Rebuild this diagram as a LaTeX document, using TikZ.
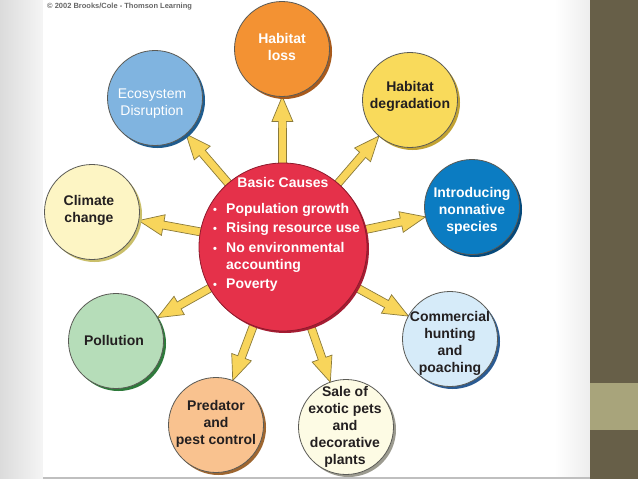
\documentclass[tikz,border=0pt]{standalone}
\usepackage{fontspec}
\setmainfont{Liberation Sans}
\usetikzlibrary{calc,shadows}
\pgfdeclarelayer{bgl}
\pgfdeclarelayer{arl}
\pgfsetlayers{bgl,arl,main}
\definecolor{redfill}{HTML}{E5314A}
\definecolor{redline}{HTML}{8E1A2C}
\definecolor{redshad}{HTML}{A51D33}
\definecolor{lossfill}{HTML}{F39233}
\definecolor{lossshad}{HTML}{A85A1C}
\definecolor{degrfill}{HTML}{F9DA5B}
\definecolor{degrshad}{HTML}{C2A232}
\definecolor{ecofill}{HTML}{80B4E0}
\definecolor{ecoshad}{HTML}{1F5C8E}
\definecolor{climfill}{HTML}{FDF5C4}
\definecolor{climshad}{HTML}{CABF6A}
\definecolor{pollfill}{HTML}{B6DDB9}
\definecolor{pollshad}{HTML}{2E7A3B}
\definecolor{predfill}{HTML}{F9C28F}
\definecolor{predshad}{HTML}{9E6630}
\definecolor{salefill}{HTML}{FDFBE4}
\definecolor{saleshad}{HTML}{9C9B90}
\definecolor{introfill}{HTML}{0B7CC2}
\definecolor{introshad}{HTML}{06497A}
\definecolor{commfill}{HTML}{D6EBF9}
\definecolor{commshad}{HTML}{2B5B92}
\definecolor{circline}{HTML}{5A5A55}
\definecolor{arrfill}{HTML}{F8D55B}
\definecolor{arrline}{HTML}{8A7A3A}
\definecolor{darktext}{HTML}{231F20}
\definecolor{stripdark}{HTML}{675F48}
\definecolor{stripband}{HTML}{A8A47B}
\tikzset{
  bub/.style 2 args={circle, draw=circline, line width=0.8pt, inner sep=0pt,
    minimum size=95pt, fill=#1,
    drop shadow={fill=#2, opacity=1, shadow xshift=2.5pt, shadow yshift=-2.5pt}},
  lbl/.style={align=center, inner sep=0pt, text=darktext,
    font=\bfseries\fontsize{14}{17}\selectfont},
  lblw/.style={lbl, text=white},
  item/.style={anchor=base west, inner sep=0pt, text=white,
    font=\bfseries\fontsize{14}{17}\selectfont},
  fatarrow/.style={fill=arrfill, draw=arrline, line width=0.7pt, line join=miter}
}
\newcommand\blt{\makebox[15pt][l]{\hspace{2pt}\fontsize{11}{11}\selectfont\textbullet}}
\begin{document}
\begin{tikzpicture}[x=1pt,y=-1pt]
\useasboundingbox (0,0) rectangle (638,479);
\begin{pgfonlayer}{bgl}
  \shade[left color=black!14, right color=black!4] (0,0) rectangle (43,479);
  \fill[white] (43,0) rectangle (590,477);
  \shade[left color=white, right color=black!7] (555,0) rectangle (590,477);
  \fill[black!25] (43,477) rectangle (590,479);
  \fill[stripdark] (590,0) rectangle (638,479);
  \fill[stripband] (590,383) rectangle (638,430);
\end{pgfonlayer}
\node[anchor=west, inner sep=0pt, text=black!60, font=\bfseries\fontsize{7.5}{8}\selectfont] (copy) at (47,7) {\textcopyright\ 2002 Brooks/Cole - Thomson Learning};
% circles
\node[circle, draw=redline, line width=0.8pt, inner sep=0pt, minimum size=168pt, fill=redfill,
  drop shadow={fill=redshad, opacity=1, shadow xshift=2pt, shadow yshift=-2pt}] (bc) at (283,247) {};
\node[bub={lossfill}{lossshad}] (loss) at (282,49) {};
\node[bub={degrfill}{degrshad}] (degr) at (410,100) {};
\node[bub={ecofill}{ecoshad}] (eco) at (155,98) {};
\node[bub={climfill}{climshad}] (clim) at (92,212) {};
\node[bub={pollfill}{pollshad}] (poll) at (116,341) {};
\node[bub={predfill}{predshad}] (pred) at (216,425) {};
\node[bub={salefill}{saleshad}] (sale) at (346,427) {};
\node[bub={introfill}{introshad}] (intro) at (472,207) {};
\node[bub={commfill}{commshad}] (comm) at (450,339) {};
% labels
\node[lblw] (tloss) at (282,47) {Habitat\\loss};
\node[lbl] (tdegr) at (410,96.5) {Habitat\\degradation};
\node[lblw, font=\fontsize{14}{17}\selectfont] (teco) at (152,104) {Ecosystem\\Disruption};
\node[lbl] (tclim) at (89,210.5) {Climate\\change};
\node[lbl] (tpoll) at (114,340.5) {Pollution};
\node[lbl] (tpred) at (216,424) {Predator\\and\\pest control};
\node[lbl] (tsale) at (345,426.5) {Sale of\\exotic pets\\and\\decorative\\plants};
\node[lblw] (tintro) at (472,210.5) {Introducing\\nonnative\\species};
\node[lbl] (tcomm) at (450,343) {Commercial\\hunting\\and\\poaching};
% center text
\node[lblw] (tbc) at (283,182.5) {Basic Causes};
\node[item] (i1) at (211,213.5) {\blt Population growth};
\node[item] (i2) at (211,232.5) {\blt Rising resource use};
\node[item] (i3) at (211,252.5) {\blt No environmental};
\node[item] (i4) at (226,269.5) {accounting};
\node[item] (i5) at (211,288.5) {\blt Poverty};
% arrows
\begin{pgfonlayer}{arl}
\foreach \t in {loss,degr,eco,clim,poll,pred,sale,intro,comm}{
  \path ($(\t)!47.5pt!(bc)$) coordinate (tp);
  \path ($(tp)!25pt!(bc)$) coordinate (hb);
  \draw[fatarrow] ($(bc)!4pt!90:(tp)$) -- ($(hb)!4pt!90:(tp)$) -- ($(hb)!10.5pt!90:(tp)$)
    -- (tp) -- ($(hb)!10.5pt!-90:(tp)$) -- ($(hb)!4pt!-90:(tp)$) -- ($(bc)!4pt!-90:(tp)$) -- cycle;
}
\end{pgfonlayer}
\end{tikzpicture}
\end{document}
